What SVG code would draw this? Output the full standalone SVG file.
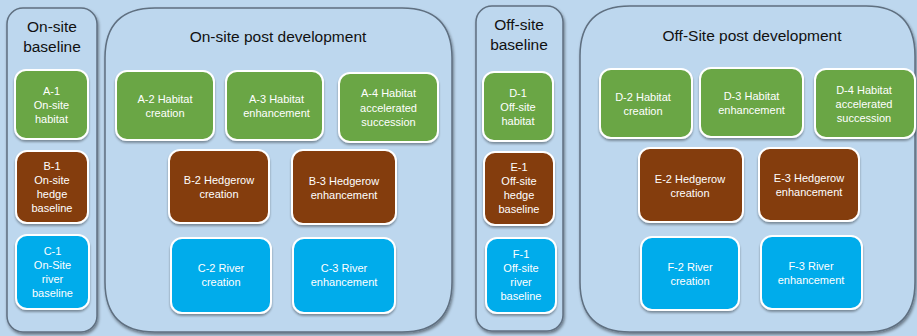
<svg xmlns="http://www.w3.org/2000/svg" width="917" height="336" viewBox="0 0 917 336">
<defs>
<filter id="csh" x="-10%" y="-10%" width="120%" height="120%">
<feDropShadow dx="1" dy="2" stdDeviation="1.5" flood-color="#000" flood-opacity="0.45"/>
</filter>
<filter id="nsh" x="-10%" y="-10%" width="120%" height="125%">
<feDropShadow dx="0" dy="2" stdDeviation="1.2" flood-color="#000" flood-opacity="0.35"/>
</filter>
<style>
.cont{fill:#BDD7EE;stroke:#5f6f80;stroke-width:1.5;filter:url(#csh)}
.ct{font-family:"Liberation Sans",Arial,sans-serif;font-size:15.5px;fill:#111;text-anchor:middle}
.nd{stroke:#fff;stroke-width:2;filter:url(#nsh)}
.g{fill:#6AA644}
.b{fill:#843C0C}
.r{fill:#05ACEB}
.nt{font-family:"Liberation Sans",Arial,sans-serif;font-size:11px;fill:#fff;text-anchor:middle;dominant-baseline:central}
</style>
</defs>
<rect width="917" height="336" fill="#BDD7EE"/>

<g id="onsite-baseline">
<rect class="cont" x="7" y="8" width="90" height="324" rx="16"/>
<text class="ct"><tspan x="52" y="32">On-site</tspan><tspan x="52" y="52">baseline</tspan></text>
</g>
<g id="onsite-post">
<path class="cont" d="M155 8 H402 Q452 8 452 58 V282 Q452 332 402 332 H155 Q105 332 105 282 V58 Q105 8 155 8 Z"/>
<text class="ct" x="278" y="42">On-site post development</text>
</g>
<g id="offsite-baseline">
<rect class="cont" x="476" y="6" width="87" height="325" rx="16"/>
<text class="ct"><tspan x="519" y="30">Off-site</tspan><tspan x="519" y="50">baseline</tspan></text>
</g>
<g id="offsite-post">
<path class="cont" d="M630 6 H866 Q915 6 915 56 V282 Q915 332 866 332 H630 Q580 332 580 282 V56 Q580 6 630 6 Z"/>
<text class="ct" x="752" y="41">Off-Site post development</text>
</g>

<g id="A-1"><rect class="nd g" x="15" y="70" width="73" height="69" rx="11"/>
<text class="nt"><tspan x="51.5" y="90.5">A-1</tspan><tspan x="51.5" y="104.5">On-site</tspan><tspan x="51.5" y="118.5">habitat</tspan></text></g>
<g id="B-1"><rect class="nd b" x="16" y="151" width="72" height="72" rx="11"/>
<text class="nt"><tspan x="52" y="166">B-1</tspan><tspan x="52" y="180">On-site</tspan><tspan x="52" y="194">hedge</tspan><tspan x="52" y="208">baseline</tspan></text></g>
<g id="C-1"><rect class="nd r" x="16" y="235" width="73" height="74" rx="11"/>
<text class="nt"><tspan x="52.5" y="251">C-1</tspan><tspan x="52.5" y="265">On-Site</tspan><tspan x="52.5" y="279">river</tspan><tspan x="52.5" y="293">baseline</tspan></text></g>

<g id="A-2"><rect class="nd g" x="116" y="71" width="98" height="69" rx="11"/>
<text class="nt"><tspan x="165" y="99">A-2 Habitat</tspan><tspan x="165" y="113">creation</tspan></text></g>
<g id="A-3"><rect class="nd g" x="226" y="71" width="97" height="69" rx="11"/>
<text class="nt"><tspan x="276.5" y="99">A-3 Habitat</tspan><tspan x="276.5" y="113">enhancement</tspan></text></g>
<g id="A-4"><rect class="nd g" x="339" y="73" width="99" height="69" rx="11"/>
<text class="nt"><tspan x="388.5" y="93">A-4 Habitat</tspan><tspan x="388.5" y="107.5">accelerated</tspan><tspan x="388.5" y="122">succession</tspan></text></g>
<g id="B-2"><rect class="nd b" x="169" y="150" width="100" height="73" rx="11"/>
<text class="nt"><tspan x="219" y="180">B-2 Hedgerow</tspan><tspan x="219" y="194">creation</tspan></text></g>
<g id="B-3"><rect class="nd b" x="292" y="150" width="104" height="74" rx="11"/>
<text class="nt"><tspan x="344" y="181">B-3 Hedgerow</tspan><tspan x="344" y="195">enhancement</tspan></text></g>
<g id="C-2"><rect class="nd r" x="171" y="238" width="100" height="75" rx="11"/>
<text class="nt"><tspan x="221" y="268">C-2 River</tspan><tspan x="221" y="282">creation</tspan></text></g>
<g id="C-3"><rect class="nd r" x="293" y="238" width="102" height="75" rx="11"/>
<text class="nt"><tspan x="344" y="268">C-3 River</tspan><tspan x="344" y="282">enhancement</tspan></text></g>

<g id="D-1"><rect class="nd g" x="483" y="72" width="70" height="69" rx="11"/>
<text class="nt"><tspan x="518" y="93">D-1</tspan><tspan x="518" y="107">Off-site</tspan><tspan x="518" y="121">habitat</tspan></text></g>
<g id="E-1"><rect class="nd b" x="484" y="152" width="70" height="73" rx="11"/>
<text class="nt"><tspan x="519" y="167">E-1</tspan><tspan x="519" y="181">Off-site</tspan><tspan x="519" y="195">hedge</tspan><tspan x="519" y="209">baseline</tspan></text></g>
<g id="F-1"><rect class="nd r" x="486" y="238" width="70" height="75" rx="11"/>
<text class="nt"><tspan x="521" y="254">F-1</tspan><tspan x="521" y="268">Off-site</tspan><tspan x="521" y="282">river</tspan><tspan x="521" y="296">baseline</tspan></text></g>

<g id="D-2"><rect class="nd g" x="600" y="69" width="92" height="69" rx="11"/>
<text class="nt"><tspan x="643" y="97">D-2 Habitat</tspan><tspan x="643" y="111">creation</tspan></text></g>
<g id="D-3"><rect class="nd g" x="700" y="68" width="103" height="69" rx="11"/>
<text class="nt"><tspan x="751.5" y="96">D-3 Habitat</tspan><tspan x="751.5" y="110">enhancement</tspan></text></g>
<g id="D-4"><rect class="nd g" x="815" y="69" width="100" height="69" rx="11"/>
<text class="nt"><tspan x="864" y="90">D-4 Habitat</tspan><tspan x="864" y="104">accelerated</tspan><tspan x="864" y="118">succession</tspan></text></g>
<g id="E-2"><rect class="nd b" x="639" y="148" width="104" height="74" rx="11"/>
<text class="nt"><tspan x="690" y="179">E-2 Hedgerow</tspan><tspan x="690" y="193">creation</tspan></text></g>
<g id="E-3"><rect class="nd b" x="759" y="148" width="100" height="73" rx="11"/>
<text class="nt"><tspan x="809" y="178">E-3 Hedgerow</tspan><tspan x="809" y="192">enhancement</tspan></text></g>
<g id="F-2"><rect class="nd r" x="641" y="237" width="98" height="73" rx="11"/>
<text class="nt"><tspan x="690" y="267">F-2 River</tspan><tspan x="690" y="281">creation</tspan></text></g>
<g id="F-3"><rect class="nd r" x="761" y="236" width="101" height="73" rx="11"/>
<text class="nt"><tspan x="811" y="266">F-3 River</tspan><tspan x="811" y="280">enhancement</tspan></text></g>

<g id="connectors"/>
</svg>
